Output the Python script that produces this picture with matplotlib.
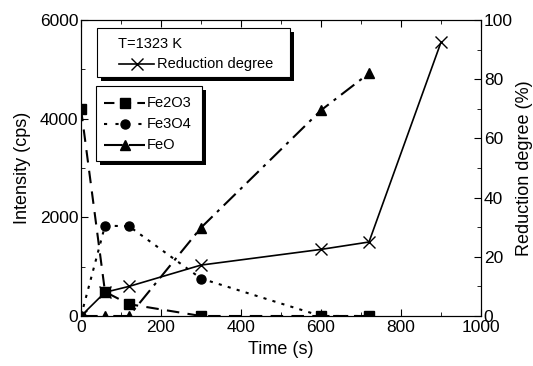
import matplotlib
matplotlib.use("Agg")
import matplotlib.pyplot as plt
from matplotlib.lines import Line2D
from matplotlib.patches import Rectangle
from matplotlib.ticker import MultipleLocator

plt.rcParams['font.family'] = ['Liberation Sans', 'DejaVu Sans']

# time points (s)
time = [0, 60, 120, 300, 600, 720]
fe2o3 = [4200, 490, 240, 0, 0, 0]
fe3o4 = [0, 1830, 1820, 760, 0, 0]
feo = [0, 0, 0, 1790, 4170, 4920]

red_time = [0, 60, 120, 300, 600, 720, 900]
red_degree = [0, 8, 10, 17.2, 22.5, 25, 92.5]

W, H = 533, 366
fig = plt.figure(figsize=(W / 100, H / 100), dpi=100)
ax = fig.add_axes([81 / W, 1 - 316 / H, 400 / W, 296 / H])
ax2 = ax.twinx()

ms = 6.5
dash = (0, (6, 4))
dot = (0, (1.5, 3))
dashdot = (0, (8, 3, 1.5, 3))

l1, = ax.plot(time, fe2o3, color='black', ls=dash, lw=1.5, marker='s', ms=ms)
l2, = ax.plot(time, fe3o4, color='black', ls=dot, lw=1.5, marker='o', ms=ms)
l3, = ax.plot(time, feo, color='black', ls=dashdot, lw=1.5, marker='^', ms=ms)
lr, = ax2.plot(red_time, red_degree, color='black', ls='-', lw=1.2, marker='x', ms=8,
               mew=1.0)

ax.set_xlim(0, 1000)
ax.set_ylim(0, 6000)
ax2.set_ylim(0, 100)

ax.xaxis.set_major_locator(MultipleLocator(200))
ax.xaxis.set_minor_locator(MultipleLocator(100))
ax.yaxis.set_major_locator(MultipleLocator(2000))
ax.yaxis.set_minor_locator(MultipleLocator(1000))
ax2.yaxis.set_major_locator(MultipleLocator(20))
ax2.yaxis.set_minor_locator(MultipleLocator(10))

fs_tick = 12.5
fs_label = 13
ax.tick_params(axis='x', which='both', direction='in', top=True, labelsize=fs_tick, pad=3)
ax.tick_params(axis='y', which='both', direction='in', labelsize=fs_tick, pad=2)
ax2.tick_params(axis='y', which='both', direction='in', labelsize=fs_tick, pad=2)
for a in (ax, ax2):
    a.tick_params(which='major', length=5)
    a.tick_params(which='minor', length=3)

ax.set_xlabel('Time (s)', fontsize=fs_label, labelpad=4)
ax.set_ylabel('Intensity (cps)', fontsize=fs_label, labelpad=6)
ax2.set_ylabel('Reduction degree (%)', fontsize=fs_label, labelpad=2)


# legend boxes drawn in pixel coordinates of the figure
def fx(px):
    return px / W


def fy(py):
    return 1 - py / H


def framed_box(x0, y0, x1, y1, off=4):
    fig.add_artist(Rectangle((fx(x0 + off), fy(y1 + off)), fx(x1) - fx(x0),
                             fy(y0) - fy(y1), transform=fig.transFigure,
                             facecolor='black', edgecolor='black', lw=0, zorder=10))
    fig.add_artist(Rectangle((fx(x0), fy(y1)), fx(x1) - fx(x0), fy(y0) - fy(y1),
                             transform=fig.transFigure, facecolor='white',
                             edgecolor='black', lw=0.8, zorder=11))


def handle(x0, x1, y, ls, marker, msize, lw=1.5, mew=1.0):
    fig.add_artist(Line2D([fx(x0), fx(x1)], [fy(y), fy(y)], transform=fig.transFigure,
                          color='black', ls=ls, lw=lw, zorder=12))
    fig.add_artist(Line2D([fx((x0 + x1) / 2)], [fy(y)], transform=fig.transFigure,
                          color='black', marker=marker, ms=msize, mew=mew, ls='none',
                          zorder=13))


fs_leg = 10.5
framed_box(97, 28, 290, 77)
fig.text(fx(118), fy(44), 'T=1323 K', fontsize=fs_leg, va='center', ha='left', zorder=12)
handle(119, 154, 64, '-', 'x', 8, lw=1.2)
fig.text(fx(157), fy(64), 'Reduction degree', fontsize=fs_leg, va='center', ha='left',
         zorder=12)

framed_box(96, 86, 202, 161)
rows = [(103, (0, (5, 3)), 's', 'Fe2O3'),
        (124, (0, (1.5, 4)), 'o', 'Fe3O4'),
        (145, (0, (9, 3)), '^', 'FeO')]
for y, ls, mk, name in rows:
    handle(104, 145, y, ls, mk, ms)
    fig.text(fx(147), fy(y), name, fontsize=fs_leg, va='center', ha='left', zorder=12)

fig.savefig('out.png', dpi=100)
